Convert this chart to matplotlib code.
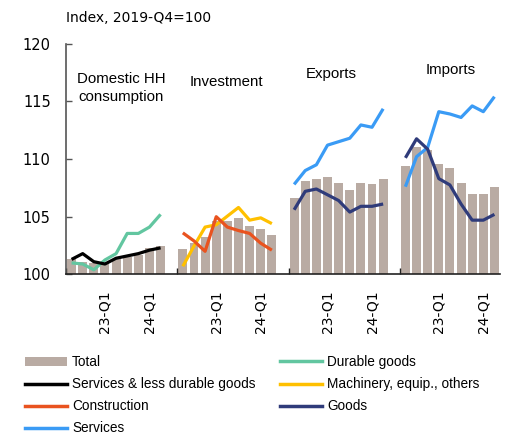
import matplotlib
matplotlib.use("Agg")
import matplotlib.pyplot as plt
import numpy as np
from matplotlib.patches import Patch
from matplotlib.lines import Line2D

quarters = ['22-Q2', '22-Q3', '22-Q4', '23-Q1', '23-Q2', '23-Q3', '23-Q4', '24-Q1', '24-Q2']
tick_labels = ['23-Q1', '24-Q1']
panels = ['Domestic HH\nconsumption', 'Investment', 'Exports', 'Imports']

hh_total = [101.3, 101.1, 101.0, 101.0, 101.3, 101.5, 101.7, 102.3, 102.5]
hh_services = [101.3, 101.8, 101.1, 100.9, 101.4, 101.6, 101.8, 102.1, 102.3]
hh_durable = [101.0, 100.9, 100.4, 101.25, 101.8, 103.55, 103.55, 104.1, 105.2]

inv_total = [102.2, 102.75, 103.2, 104.65, 104.65, 104.9, 104.2, 103.9, 103.4]
inv_machinery = [100.7, 102.45, 104.1, 104.3, 105.05, 105.8, 104.7, 104.9, 104.4]
inv_construction = [103.6, 102.9, 102.0, 105.0, 104.1, 103.8, 103.55, 102.7, 102.1]

exp_total = [106.6, 108.1, 108.3, 108.45, 107.95, 107.3, 107.9, 107.8, 108.3]
exp_services = [107.8, 109.0, 109.5, 111.2, 111.5, 111.8, 112.95, 112.75, 114.35]
exp_goods = [105.6, 107.2, 107.4, 106.9, 106.4, 105.4, 105.9, 105.9, 106.1]

imp_total = [109.4, 111.0, 110.8, 109.6, 109.25, 107.9, 107.0, 107.0, 107.6]
imp_services = [107.6, 110.2, 111.0, 114.1, 113.9, 113.6, 114.6, 114.1, 115.4]
imp_goods = [110.1, 111.75, 110.85, 108.3, 107.75, 106.1, 104.7, 104.7, 105.2]

C_BAR = '#b9aba3'
C_DUR = '#62c6a0'
C_SRV_HH = '#000000'
C_MACH = '#ffc000'
C_CONS = '#e9531f'
C_GOODS = '#2f3b7a'
C_SERV = '#3a9bf5'

LEG_FONT = ['Liberation Sans', 'DejaVu Sans']

fig = plt.figure(figsize=(5.17, 4.36), dpi=100)
ax = fig.add_axes([66/517, 1-274.4/436, (500-66)/517, (274.4-43.6)/436])

n = len(quarters)
gap = n + 1
base = np.arange(n)

totals = [hh_total, inv_total, exp_total, imp_total]
lines = [
    [(hh_durable, C_DUR), (hh_services, C_SRV_HH)],
    [(inv_machinery, C_MACH), (inv_construction, C_CONS)],
    [(exp_services, C_SERV), (exp_goods, C_GOODS)],
    [(imp_services, C_SERV), (imp_goods, C_GOODS)],
]

for g in range(4):
    x = base + g * gap
    ax.bar(x, np.array(totals[g]) - 100, bottom=100, width=0.8, color=C_BAR, zorder=1)
    for vals, col in lines[g]:
        ax.plot(x, vals, color=col, lw=2.3, zorder=3, solid_capstyle='butt')

ax.set_xlim(-0.5, 4 * gap - 1.5)
ax.set_ylim(100, 120)
ax.set_yticks([100, 105, 110, 115, 120])

major = []
labs = []
for g in range(4):
    for t in tick_labels:
        major.append(quarters.index(t) + g * gap)
        labs.append(t)
ax.set_xticks(major)
ax.set_xticklabels(labs, rotation=90, fontsize=10, family='DejaVu Sans')
ax.set_xticks([g * gap - 0.5 for g in range(4)], minor=True)
ax.tick_params(axis='x', which='major', length=0, pad=11.5)
ax.tick_params(axis='x', which='minor', direction='in', length=4, width=1, color='#222')
ax.tick_params(axis='y', direction='in', length=4, width=1, color='#555', pad=11, labelsize=10.5)

for s in ['top', 'right']:
    ax.spines[s].set_visible(False)
ax.spines['left'].set_color('#555')
ax.spines['left'].set_linewidth(1.2)
ax.spines['bottom'].set_color('#222')
ax.spines['bottom'].set_linewidth(1.2)

title_pos = [(4.45, 116.14), (13.9, 116.7), (23.3, 117.4), (34.1, 117.7)]
for (tx, ty), name in zip(title_pos, panels):
    ax.text(tx, ty, name, ha='center', va='center', fontsize=10.8,
            family=LEG_FONT, linespacing=1.35)

fig.text(66/517, 1-18/436, 'Index, 2019-Q4=100', ha='left', va='center',
         fontsize=10, family='DejaVu Sans')

h1 = [Patch(facecolor=C_BAR, edgecolor='none'),
      Line2D([], [], color=C_SRV_HH, lw=2.5),
      Line2D([], [], color=C_CONS, lw=2.5),
      Line2D([], [], color=C_SERV, lw=2.5)]
l1 = ['Total', 'Services & less durable goods', 'Construction', 'Services']
h2 = [Line2D([], [], color=C_DUR, lw=2.5),
      Line2D([], [], color=C_MACH, lw=2.5),
      Line2D([], [], color=C_GOODS, lw=2.5)]
l2 = ['Durable goods', 'Machinery, equip., others', 'Goods']

kw = dict(loc='upper left', frameon=False, borderaxespad=0, borderpad=0,
          handlelength=3.07, handletextpad=0.38, labelspacing=0.6,
          prop={'family': LEG_FONT, 'size': 9.8}, handleheight=0.6)
leg1 = fig.legend(h1, l1, bbox_to_anchor=(25/517, 1-355/436), **kw)
leg2 = fig.legend(h2, l2, bbox_to_anchor=(280/517, 1-355/436), **kw)

fig.savefig('out.png', dpi=100)
